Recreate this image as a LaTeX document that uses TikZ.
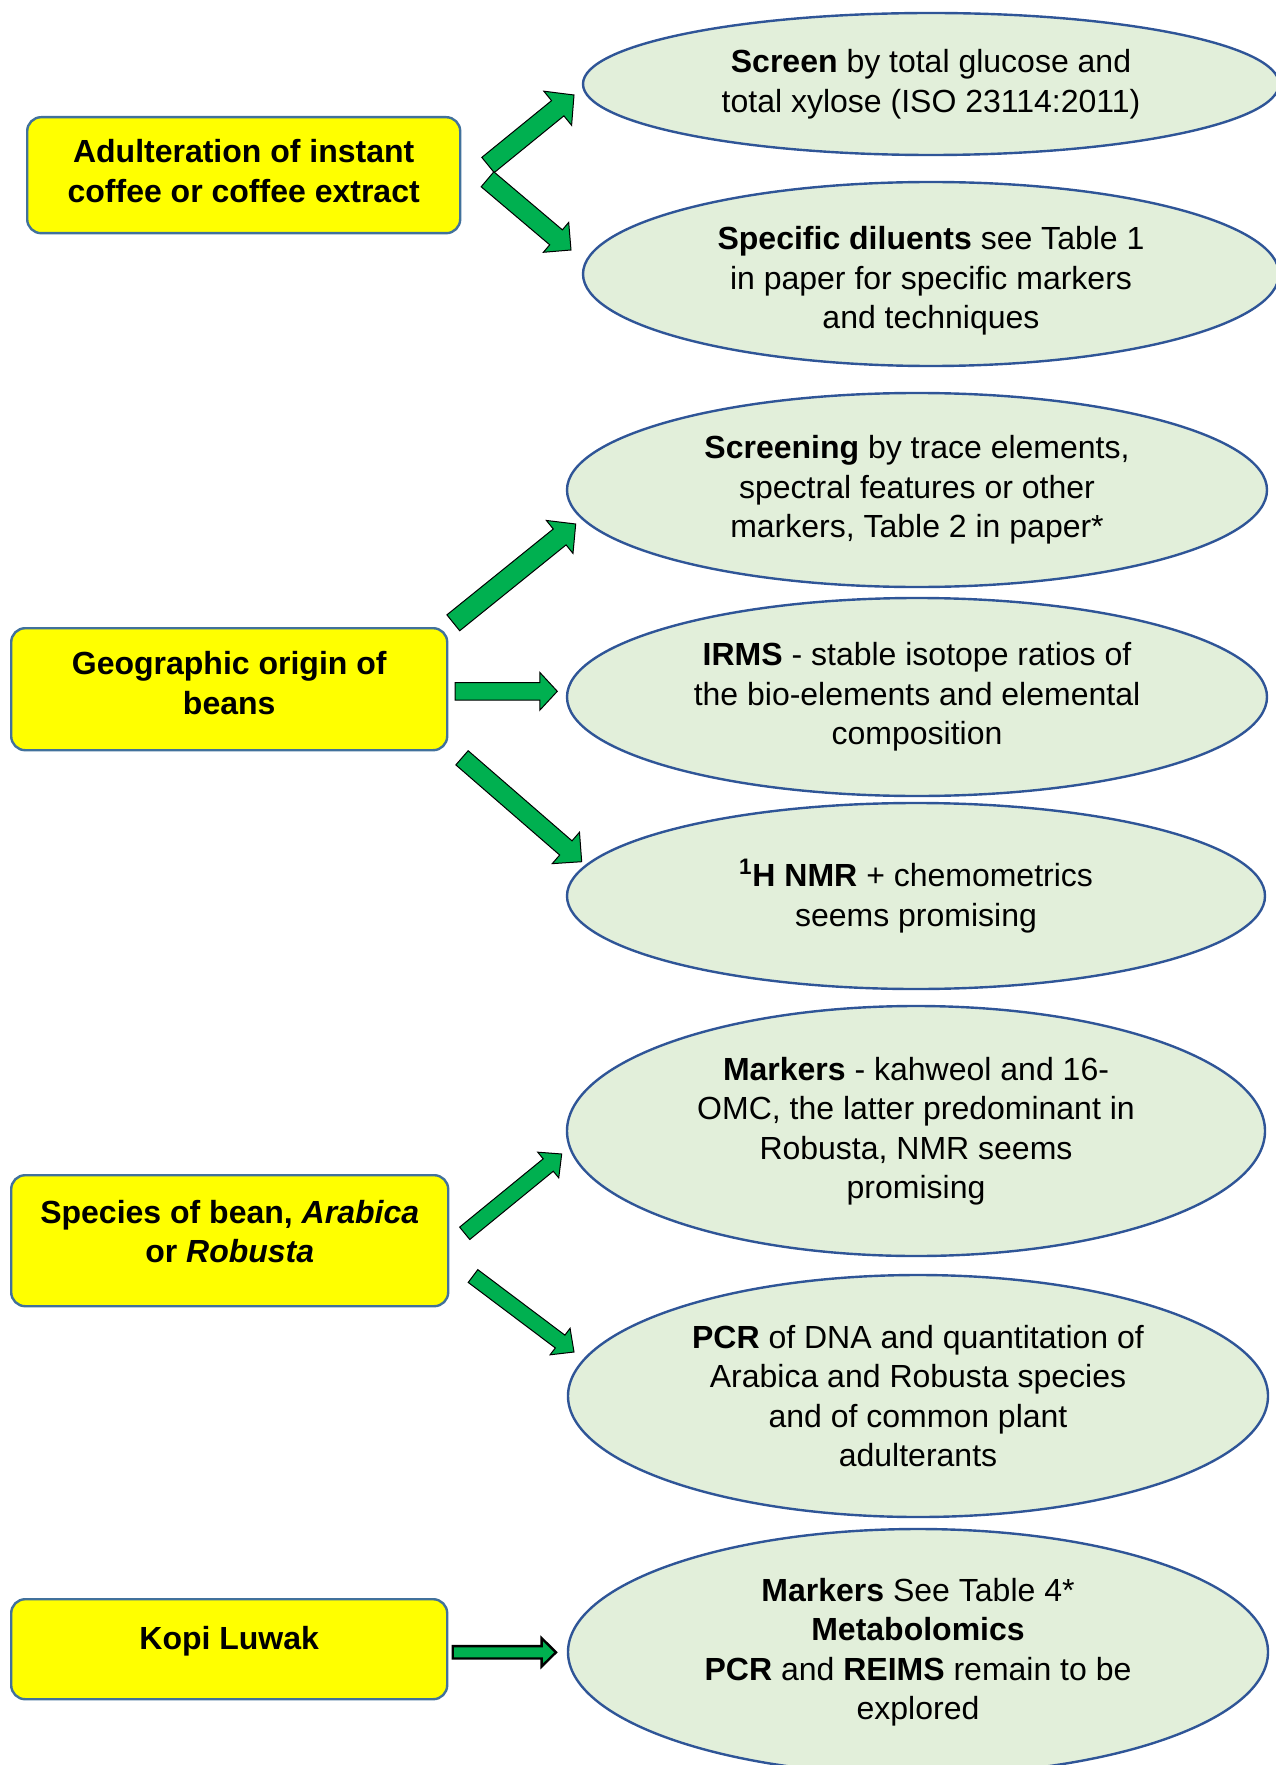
\documentclass[tikz,border=0pt]{standalone}
\usepackage{fontspec}
\setmainfont{Liberation Sans}
\usepackage{tikz}
\usetikzlibrary{calc}
\usetikzlibrary{shapes.geometric}

\definecolor{topicfill}{HTML}{FFFF00}
\definecolor{topicline}{HTML}{41719C}
\definecolor{methodfill}{HTML}{E2EFDA}
\definecolor{methodline}{HTML}{2F5597}
\definecolor{arrowfill}{HTML}{00B050}

\tikzset{
  topic/.style={rectangle, rounded corners=7pt, draw=topicline, line width=1.2pt, fill=topicfill, anchor=north west},
  topictext/.style={align=center, inner sep=0pt, font=\fontsize{16}{19.75}\selectfont\bfseries},
  methodtext/.style={align=center, inner sep=0pt, font=\fontsize{16}{19.75}\selectfont},
  method/.style={ellipse, draw=methodline, line width=1.2pt, fill=methodfill, methodtext},
  blockarrow/.style={draw=black, line width=0.5pt, fill=arrowfill, line join=miter},
}

% block arrow: [style]{tail}{tip}{half shaft}{half head}{head length}
\newcommand{\blockarrow}[6][]{%
  \coordinate (#3-neck) at ($(#3)!#6!(#2)$);
  \draw[blockarrow, #1] ($(#2)!#4!90:(#3)$) -- ($(#3-neck)!#4!90:(#3)$) -- ($(#3-neck)!#5!90:(#3)$) -- (#3)
    -- ($(#3-neck)!#5!-90:(#3)$) -- ($(#3-neck)!#4!-90:(#3)$) -- ($(#2)!#4!-90:(#3)$) -- cycle;
}

\begin{document}
\begin{tikzpicture}[x=0.5pt, y=-0.5pt]

\useasboundingbox (0,0) rectangle (1275,1765);

\node at (26,116) [topic, minimum width=216.5pt, minimum height=58pt] (instant) {};
\node [topictext] at ([yshift=2pt]instant.center) (instant-text) {Adulteration of instant\\coffee or coffee extract};
\node at (10,627) [topic, minimum width=218pt, minimum height=61pt] (origin) {};
\node [topictext] at ([yshift=3pt]origin.center) (origin-text) {Geographic origin of\\beans};
\node at (10,1174) [topic, minimum width=218.5pt, minimum height=65.5pt] (species) {};
\node [topictext] at ([yshift=4.5pt]species.center) (species-text) {Species of bean, \textit{Arabica}\\or \textit{Robusta}};
\node at (10,1598) [topic, minimum width=218pt, minimum height=50pt] (kopi) {};
\node [topictext] at ([yshift=4pt]kopi.center) (kopi-text) {Kopi Luwak};

\node at (931,84) [method, minimum width=348pt, minimum height=71pt] (screen) {\textbf{Screen} by total glucose and\\total xylose (ISO 23114:2011)};
\node at (931,274) [method, minimum width=348pt, minimum height=92pt] (diluents) {};
\node [methodtext] at ([yshift=-3.5pt]diluents.center) (diluents-text) {\textbf{Specific diluents} see Table 1\\in paper for specific markers\\and techniques};

\node at (917,490) [method, minimum width=350pt, minimum height=97pt] (screening) {\textbf{Screening} by trace elements,\\spectral features or other\\markers, Table 2 in paper*};
\node at (917,697) [method, minimum width=350pt, minimum height=99pt] (irms) {\textbf{IRMS} - stable isotope ratios of\\the bio-elements and elemental\\composition};
\node at (916,896) [method, minimum width=349pt, minimum height=93pt] (nmr) {\textbf{\textsuperscript{1}H NMR} + chemometrics\\seems promising};

\node at (916,1131) [method, minimum width=349pt, minimum height=125pt] (markers) {\textbf{Markers} - kahweol and 16-\\OMC, the latter predominant in\\Robusta, NMR seems\\promising};
\node at (918,1396) [method, minimum width=350pt, minimum height=121pt] (pcr) {\textbf{PCR} of DNA and quantitation of\\Arabica and Robusta species\\and of common plant\\adulterants};

\node at (918,1652) [method, minimum width=350pt, minimum height=123pt] (kopimarkers) {\textbf{Markers} See Table 4*\\\textbf{Metabolomics}\\\textbf{PCR} and \textbf{REIMS} remain to be\\explored};

\coordinate (instant-a) at (488,165);
\coordinate (screen-a) at (574,95);
\coordinate (instant-b) at (487.5,179.3);
\coordinate (diluents-a) at (571,250);
\blockarrow{instant-a}{screen-a}{4.9pt}{11pt}{10.5pt}
\blockarrow{instant-b}{diluents-a}{4.9pt}{9.8pt}{9.8pt}

\coordinate (origin-a) at (453.3,622.8);
\coordinate (screening-a) at (575.7,524);
\coordinate (origin-b) at (455,691.3);
\coordinate (irms-a) at (557.3,691.3);
\coordinate (origin-c) at (462,757.8);
\coordinate (nmr-a) at (581.7,861.7);
\blockarrow{origin-a}{screening-a}{5.1pt}{10.6pt}{10.3pt}
\blockarrow{origin-b}{irms-a}{4.4pt}{9.4pt}{8.7pt}
\blockarrow{origin-c}{nmr-a}{4.7pt}{10.4pt}{10.5pt}

\coordinate (species-a) at (464.7,1233.3);
\coordinate (markers-a) at (561.7,1154);
\coordinate (species-b) at (473,1276);
\coordinate (pcr-a) at (574,1352);
\blockarrow{species-a}{markers-a}{4pt}{8.3pt}{8.7pt}
\blockarrow{species-b}{pcr-a}{4pt}{8.3pt}{8.7pt}

\coordinate (kopi-a) at (452.7,1652.3);
\coordinate (kopimarkers-a) at (556,1652.3);
\blockarrow[line width=1.2pt]{kopi-a}{kopimarkers-a}{3.1pt}{7.1pt}{7.2pt}

\end{tikzpicture}
\end{document}
